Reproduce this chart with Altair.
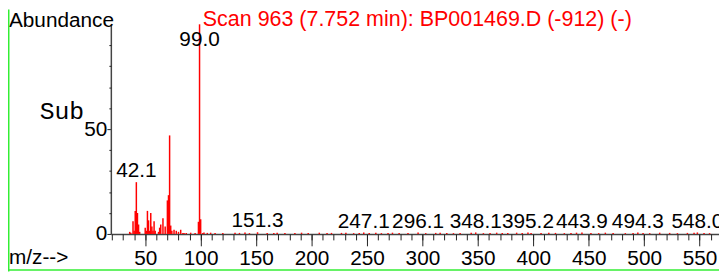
import altair as alt
import pandas as pd

# ---- data ----
peak_mz = [36, 37, 39, 40, 41, 42, 43, 44, 45, 50, 51, 52, 53, 54, 55, 56, 57, 58, 59,
           62, 63, 64, 66, 68, 70, 71, 72, 73, 74, 76, 78, 80, 82, 85, 98, 99, 100, 102]
peak_abund = [1.0, 0.6, 6.0, 1.5, 11.0, 24.7, 10.0, 4.5, 1.0, 3.0, 1.5, 11.0, 6.5, 1.5, 10.0, 3.5, 1.5, 6.0, 1.5,
              1.0, 3.0, 4.5, 7.5, 3.5, 16.0, 18.5, 47.0, 4.0, 1.5, 2.0, 1.5, 1.0, 2.0, 0.5, 5.8, 100.0, 7.0, 0.5]

noise_mz = [84, 87, 91, 95, 103, 106, 109, 113, 120, 131, 135, 140, 144, 151.3, 160, 166, 169, 176,
            185, 191, 197, 207, 214, 218, 227, 231, 238, 243, 247.1, 252, 258, 263, 269, 273, 279,
            287, 296.1, 303, 312, 316, 322, 328, 334, 344, 348.1, 355, 361, 367, 372, 377, 385, 390,
            395.2, 398, 407, 414, 420, 428, 434, 439, 443.9, 452, 459, 465, 472, 483, 490, 494.3,
            499, 505, 514, 523, 530, 539, 545, 548.0, 554, 559]
noise_abund = [0.5, 0.4, 0.6, 0.4, 0.7, 0.5, 0.6, 0.4, 0.5, 0.6, 0.5, 0.7, 0.4, 0.8, 0.5, 0.4, 0.6, 0.5,
               0.4, 0.6, 0.5, 0.6, 0.4, 0.5, 0.5, 0.6, 0.4, 0.5, 0.7, 0.5, 0.6, 0.4, 0.5, 0.6, 0.4,
               0.5, 0.7, 0.4, 0.5, 0.6, 0.5, 0.4, 0.5, 0.6, 0.7, 0.4, 0.5, 0.6, 0.4, 0.5, 0.6, 0.4,
               0.7, 0.5, 0.4, 0.6, 0.5, 0.4, 0.5, 0.6, 0.7, 0.5, 0.4, 0.6, 0.5, 0.4, 0.5, 0.7,
               0.5, 0.4, 0.6, 0.5, 0.4, 0.5, 0.6, 0.7, 0.5, 0.4]

label_mz = [99.0, 42.1, 151.3, 247.1, 296.1, 348.1, 395.2, 443.9, 494.3, 548.0]
label_abund = [100.0, 24.7, 0.8, 0.7, 0.7, 0.7, 0.7, 0.7, 0.7, 0.7]

x_major = [50, 100, 150, 200, 250, 300, 350, 400, 450, 500, 550]
x_minor = list(range(20, 561, 10))
y_major = [0, 50]
y_minor = [10, 20, 30, 40, 60, 70, 80, 90]

title_text = "Scan 963 (7.752 min): BP001469.D (-912) (-)"

# ---- tables ----
peaks = pd.DataFrame({"mz": peak_mz + noise_mz, "abund": peak_abund + noise_abund})
labels = pd.DataFrame({"mz": label_mz, "abund": label_abund,
                       "text": [f"{v:.1f}" for v in label_mz]})

FONT = "Liberation Sans"
W, H = 615, 212
xs = alt.Scale(domain=[19, 567.5], nice=False, zero=False)
ys = alt.Scale(domain=[0, 100], nice=False)

bars = alt.Chart(peaks).mark_rule(color="#ff0000", strokeWidth=1.5).encode(
    x=alt.X("mz:Q", scale=xs,
            axis=alt.Axis(values=x_major, tickSize=12, labelPadding=1.5, title=None,
                          orient="bottom", grid=False, format="d")),
    y=alt.Y("abund:Q", scale=ys,
            axis=alt.Axis(values=y_major, tickSize=4, labelPadding=0, title=None,
                          orient="left", grid=False, format="d")),
    y2=alt.datum(0),
)

texts = alt.Chart(labels).transform_calculate(
    ty="min(datum.abund, 87.5)"
).mark_text(font=FONT, fontSize=21, baseline="alphabetic", dy=-5, color="black").encode(
    x=alt.X("mz:Q", scale=xs,
            axis=alt.Axis(values=x_minor, tickSize=6, labels=False, domain=False,
                          title=None, orient="bottom", grid=False)),
    y=alt.Y("ty:Q", scale=ys,
            axis=alt.Axis(values=y_minor, tickSize=2, labels=False, domain=False,
                          title=None, orient="left", grid=False)),
    text="text:N",
)


def note(txt, x, y, **kw):
    opts = dict(align="left", baseline="alphabetic", font=FONT, fontSize=21, color="black")
    opts.update(kw)
    return alt.Chart(alt.Data(values=[{}])).mark_text(text=txt, **opts).encode(
        x=alt.value(x), y=alt.value(y))


abundance = note("Abundance", -103, 2.5)
scan = note(title_text, 93, 2, color="#ff0000", fontSize=21.7)
sub = note("Sub", -72, 96, font="Liberation Mono", fontSize=25)
mz_lab = note("m/z-->", -103, 242)

GREEN = "#33ee33"
left_border = alt.Chart(alt.Data(values=[{}])).mark_rule(color=GREEN, strokeWidth=1.5).encode(
    x=alt.value(-103.25), y=alt.value(-15), y2=alt.value(250))
bottom_border = alt.Chart(alt.Data(values=[{}])).mark_rule(color=GREEN, strokeWidth=1.5).encode(
    x=alt.value(-104), x2=alt.value(W), y=alt.value(248.5))

chart = alt.layer(
    bars, texts, abundance, scan, sub, mz_lab, left_border, bottom_border
).resolve_axis(
    x="independent", y="independent"
).properties(
    width=W, height=H, autosize="none",
    padding={"left": 104, "top": 15, "right": 0, "bottom": 38},
    background="white",
).configure_view(
    stroke=None
).configure_axis(
    labelFont=FONT, labelFontSize=21, labelColor="black",
    domainColor="#444444", domainWidth=1.5, tickColor="#222222", tickWidth=1,
)

chart.save("out.html", embed_options={"renderer": "svg", "actions": False})
